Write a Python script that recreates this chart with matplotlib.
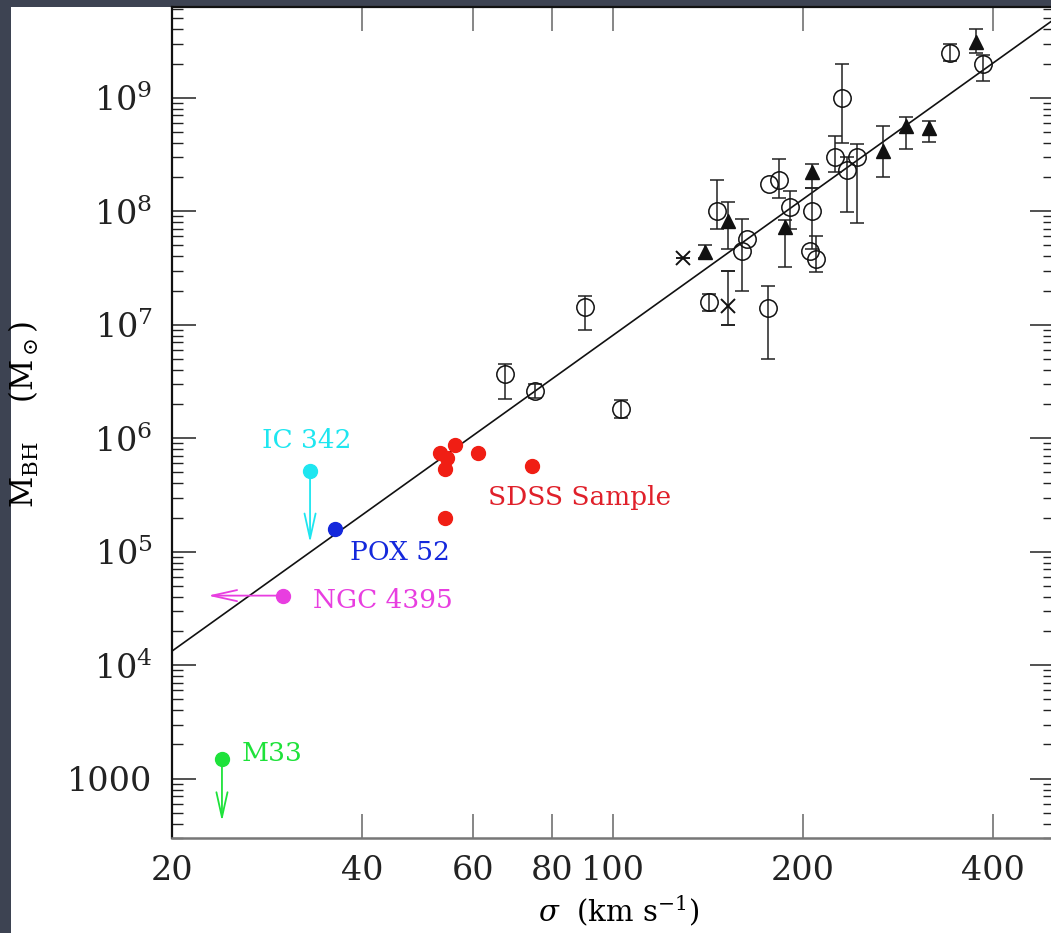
import numpy as np
import matplotlib
matplotlib.use("Agg")
import matplotlib.pyplot as plt
from matplotlib.patches import Rectangle
from matplotlib.ticker import LogLocator, NullLocator, NullFormatter

plt.rcParams['font.family'] = ['DejaVu Serif']
plt.rcParams['mathtext.fontset'] = 'dejavuserif'

# ---------------- data ----------------
# open circles with error bars
circ_sigma = [342, 386, 231, 225, 235, 244, 146, 160, 142, 176, 183, 191, 207, 210, 67.4, 75.2, 103, 90.2]
circ_mbh   = [2.5e9, 2.0e9, 1.0e9, 3.0e8, 2.3e8, 3.0e8, 1.0e8, 4.5e7, 1.58e7, 1.4e7, 1.9e8, 1.1e8, 1.0e8, 3.8e7, 3.7e6, 2.6e6, 1.8e6, 1.44e7]
circ_lo    = [2.1e9, 1.4e9, 4.0e8, 2.2e8, 9.8e7, 7.9e7, 7.0e7, 2.0e7, 1.33e7, 5.0e6, 1.3e8, 7.0e7, 4.6e7, 2.9e7, 2.2e6, 2.25e6, 1.5e6, 9.0e6]
circ_hi    = [3.0e9, 2.4e9, 2.0e9, 4.6e8, 3.0e8, 3.9e8, 1.9e8, 8.5e7, 1.88e7, 2.2e7, 2.9e8, 1.5e8, 1.6e8, 6.0e7, 4.5e6, 3.0e6, 2.15e6, 1.8e7]
# open circles without error bars
circ2_sigma = [163, 177, 205]
circ2_mbh   = [5.7e7, 1.73e8, 4.5e7]
# filled triangles
tri_sigma = [376, 268, 291, 317, 152, 140, 187, 207]
tri_mbh   = [3.1e9, 3.4e8, 5.6e8, 5.4e8, 8.2e7, 4.4e7, 7.2e7, 2.2e8]
tri_lo    = [2.5e9, 2.0e8, 3.5e8, 4.1e8, 4.6e7, 3.9e7, 3.2e7, 1.6e8]
tri_hi    = [4.0e9, 5.6e8, 6.8e8, 6.2e8, 1.2e8, 5.0e7, 8.3e7, 2.6e8]
# crosses
crs_sigma = [129, 152]
crs_mbh   = [3.9e7, 1.47e7]
crs_lo    = [3.9e7, 1.0e7]
crs_hi    = [3.9e7, 3.0e7]
# SDSS sample
sdss_sigma = [53.2, 56.2, 54.6, 54.1, 61.0, 74.4, 54.1]
sdss_mbh   = [7.4e5, 8.7e5, 6.7e5, 5.3e5, 7.4e5, 5.7e5, 2.0e5]
# individual objects (sigma, mbh, arrow end)
ic342 = (33.1, 5.1e5, 1.2e5)
pox52 = (36.3, 1.6e5)
ngc4395 = (30.0, 4.1e4, 22.8)
m33 = (24.0, 1.5e3, 420)
# fitted relation endpoints
line_sigma = [20, 500]
line_mbh = [1.33e4, 4.9e9]

xticks = [20, 40, 60, 80, 100, 200, 400]
xticklabels = ['20', '40', '60', '80', '100', '200', '400']
yticks = [1e3, 1e4, 1e5, 1e6, 1e7, 1e8, 1e9]
yticklabels = ['1000', r'$10^4$', r'$10^5$', r'$10^6$', r'$10^7$', r'$10^8$', r'$10^9$']

# ---------------- figure ----------------
W, H = 1051, 933
fig = plt.figure(figsize=(W / 100, H / 100), dpi=100)
fig.patch.set_facecolor('#3d4352')
fig.add_artist(Rectangle((11 / W, 0), 1, (H - 7) / H, transform=fig.transFigure,
                         facecolor='white', edgecolor='none', zorder=0))

ax = fig.add_axes([172 / W, 95 / H, 882 / W, 831 / H])
ax.set_xscale('log')
ax.set_yscale('log')
ax.set_xlim(20, 500)
ax.set_ylim(300, 6.3e9)

ink = '#111111'
# fit line
ax.plot(line_sigma, line_mbh, color=ink, lw=1.2, zorder=2)


def err(m, lo, hi):
    m = np.array(m); lo = np.array(lo); hi = np.array(hi)
    return [m - lo, hi - m]


ax.errorbar(circ_sigma, circ_mbh, yerr=err(circ_mbh, circ_lo, circ_hi), fmt='o',
            ms=12.5, mfc='none', mec=ink, mew=1.1, ecolor='#222222', elinewidth=1.1,
            capsize=5, capthick=1.1, zorder=3)
ax.plot(circ2_sigma, circ2_mbh, 'o', ms=12.5, mfc='none', mec=ink, mew=1.1, zorder=3)
ax.errorbar(tri_sigma, tri_mbh, yerr=err(tri_mbh, tri_lo, tri_hi), fmt='^',
            ms=10, mfc=ink, mec=ink, ecolor='#222222', elinewidth=1.1,
            capsize=5, capthick=1.1, zorder=3)
ax.errorbar(crs_sigma, crs_mbh, yerr=err(crs_mbh, crs_lo, crs_hi), fmt='x',
            ms=10, mec=ink, mew=1.4, ecolor='#222222', elinewidth=1.1,
            capsize=5, capthick=1.1, zorder=3)

red = '#f01e14'
ax.plot(sdss_sigma, sdss_mbh, 'o', ms=10, color=red, zorder=4)

cyan = '#1ee6f0'
blue = '#1428dc'
mag = '#e83ee0'
green = '#1ee23a'
aprops = dict(arrowstyle='->,head_length=1.8,head_width=0.4', lw=1.3, shrinkA=0, shrinkB=0,
              mutation_scale=10)

ax.annotate('', xy=(ic342[0], ic342[2]), xytext=(ic342[0], ic342[1]),
            arrowprops=dict(color=cyan, **aprops))
ax.plot(ic342[0], ic342[1], 'o', ms=10, color=cyan, zorder=4)
ax.plot(pox52[0], pox52[1], 'o', ms=10, color=blue, zorder=4)
ax.annotate('', xy=(ngc4395[2], ngc4395[1]), xytext=(ngc4395[0], ngc4395[1]),
            arrowprops=dict(color=mag, **aprops))
ax.plot(ngc4395[0], ngc4395[1], 'o', ms=10, color=mag, zorder=4)
ax.annotate('', xy=(m33[0], m33[2]), xytext=(m33[0], m33[1]),
            arrowprops=dict(color=green, **aprops))
ax.plot(m33[0], m33[1], 'o', ms=10, color=green, zorder=4)

tfs = 19
ax.text(27.8, 9.6e5, 'IC 342', color=cyan, fontsize=tfs, ha='left', va='center')
ax.text(38.3, 9.8e4, 'POX 52', color=blue, fontsize=tfs, ha='left', va='center')
ax.text(33.4, 3.7e4, 'NGC 4395', color=mag, fontsize=tfs, ha='left', va='center')
ax.text(25.8, 1.66e3, 'M33', color=green, fontsize=tfs, ha='left', va='center')
ax.text(63.4, 3.0e5, 'SDSS Sample', color='#e0202a', fontsize=tfs, ha='left', va='center')

# ticks
ax.xaxis.set_minor_locator(NullLocator())
ax.xaxis.set_minor_formatter(NullFormatter())
ax.set_xticks(xticks, xticklabels)
ax.yaxis.set_minor_locator(LogLocator(base=10, subs=np.arange(2, 10)))
ax.yaxis.set_minor_formatter(NullFormatter())
ax.set_yticks(yticks, yticklabels)
ax.tick_params(axis='both', which='major', direction='in', length=17, width=1.1,
               top=True, right=True, labelsize=24, colors='#222222')
ax.tick_params(axis='y', which='major', pad=14)
ax.tick_params(axis='x', which='major', pad=12, color='#666666')
ax.tick_params(axis='y', which='minor', direction='in', length=8, width=1.0,
               left=True, right=True, color='#222222')
for s in ['left', 'top', 'right']:
    ax.spines[s].set_color('#111111')
    ax.spines[s].set_linewidth(1.6)
ax.spines['bottom'].set_color('#777777')
ax.spines['bottom'].set_linewidth(1.8)

ax.set_xlabel(r'$\sigma$  (km s$^{-1}$)', fontsize=21)
ax.set_ylabel(r'M$_{\rm BH}$    (M$_\odot$)', fontsize=22)
ax.xaxis.set_label_coords(0.506, -0.066)
ax.yaxis.set_label_coords(-0.148, 0.51)

fig.savefig('out.png', dpi=100, facecolor=fig.get_facecolor())
